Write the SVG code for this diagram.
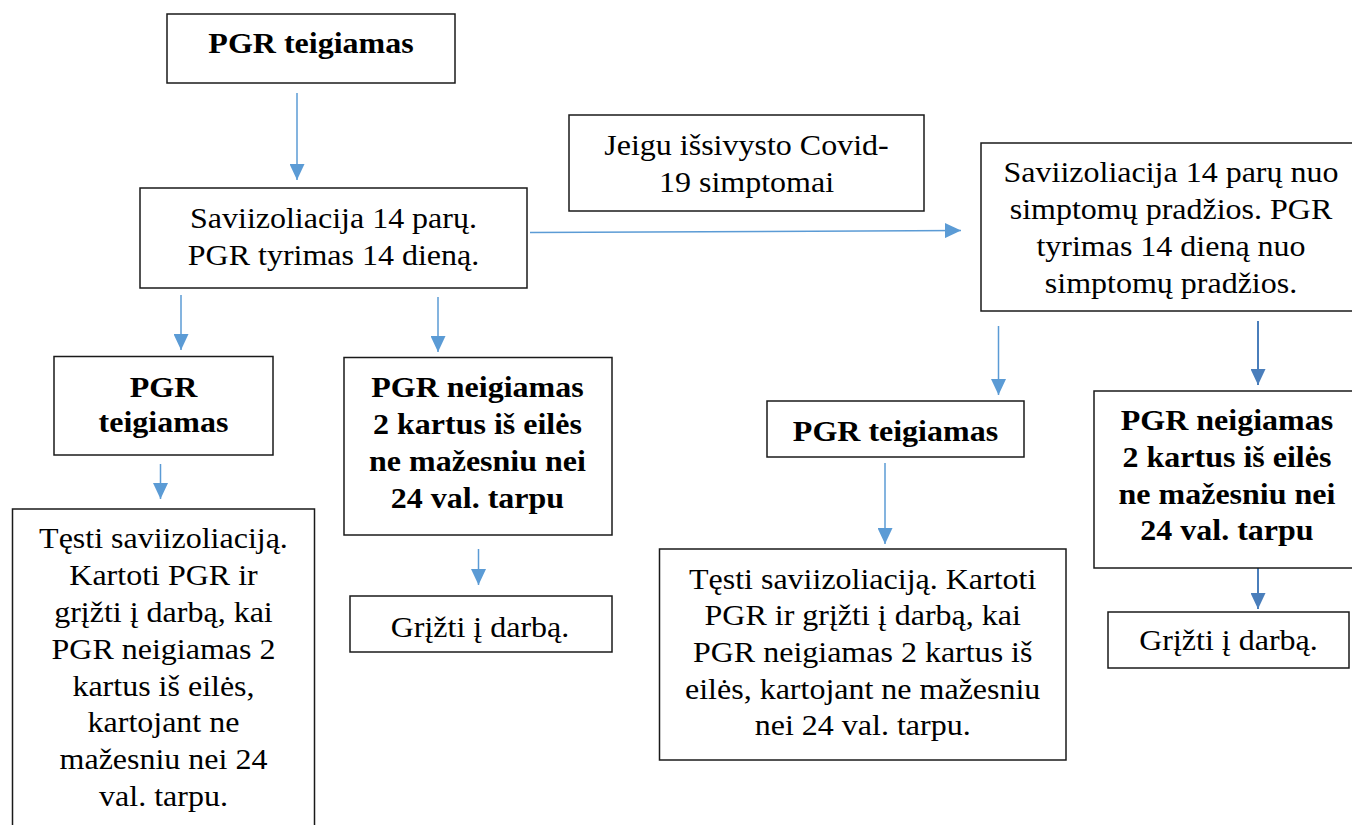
<svg xmlns="http://www.w3.org/2000/svg" width="1352" height="825" viewBox="0 0 1352 825">
<style>
.box{fill:#ffffff;stroke:#1a1a1a;stroke-width:1.5}
.t text{font-size:29.5px;fill:#000;text-anchor:middle}
.b{font-weight:bold}
.c1{stroke:#5B9BD5;stroke-width:1.5;fill:none}
.c2{stroke:#4A7EBB;stroke-width:2;fill:none}
</style>
<defs>
<marker id="h1" markerUnits="userSpaceOnUse" markerWidth="16" markerHeight="15" refX="16" refY="7.5" orient="auto"><path d="M0,0 L16,7.5 L0,15 z" fill="#5B9BD5"/></marker>
<marker id="h2" markerUnits="userSpaceOnUse" markerWidth="16" markerHeight="15" refX="16" refY="7.5" orient="auto"><path d="M0,0 L16,7.5 L0,15 z" fill="#4A7EBB"/></marker>
</defs>
<rect width="1352" height="825" fill="#ffffff"/>
<g id="connectors">
<line class="c1" x1="297" y1="93" x2="297" y2="180" marker-end="url(#h1)"/>
<line class="c1" x1="530" y1="232.5" x2="961" y2="230.5" marker-end="url(#h1)"/>
<line class="c1" x1="181" y1="295" x2="181" y2="350" marker-end="url(#h1)"/>
<line class="c1" x1="438" y1="297" x2="438" y2="352" marker-end="url(#h1)"/>
<line class="c1" x1="160.5" y1="464" x2="160.5" y2="499" marker-end="url(#h1)"/>
<line class="c1" x1="478.5" y1="549" x2="478.5" y2="585" marker-end="url(#h1)"/>
<line class="c1" x1="998.5" y1="326" x2="998.5" y2="395" marker-end="url(#h1)"/>
<line class="c2" x1="1258" y1="321" x2="1258" y2="385" marker-end="url(#h2)"/>
<line class="c1" x1="885" y1="463" x2="885" y2="544" marker-end="url(#h1)"/>
<line class="c2" x1="1258" y1="568" x2="1258" y2="609" marker-end="url(#h2)"/>
</g>
<g class="t" font-family="'Liberation Serif', 'Times New Roman', Tinos, 'DejaVu Serif', serif">
<g id="n1">
<rect class="box" x="167" y="14" width="288" height="69"/>
<g transform="matrix(1.085,0,0,1,-26.435,0)">
<text class="b" x="311" y="53.5">PGR teigiamas</text>
</g>
</g>
<g id="n2">
<rect class="box" x="140" y="188" width="387" height="100"/>
<g transform="matrix(1.085,0,0,1,-28.35,0)">
<text x="333.5" y="228.5">Saviizoliacija 14 parų.</text>
<text x="333.5" y="265">PGR tyrimas 14 dieną.</text>
</g>
</g>
<g id="n3">
<rect class="box" x="569" y="115" width="355" height="96"/>
<g transform="matrix(1.085,0,0,1,-63.45,0)">
<text x="746.5" y="155">Jeigu išsivysto Covid-</text>
<text x="746.5" y="192">19 simptomai</text>
</g>
</g>
<g id="n4">
<rect class="box" x="981" y="143" width="380" height="168"/>
<g transform="matrix(1.085,0,0,1,-99.535,0)">
<text x="1171" y="182.5">Saviizoliacija 14 parų nuo</text>
<text x="1171" y="219.5">simptomų pradžios. PGR</text>
<text x="1171" y="256">tyrimas 14 dieną nuo</text>
<text x="1171" y="293">simptomų pradžios.</text>
</g>
</g>
<g id="n5">
<rect class="box" x="54" y="356.5" width="219" height="98.5"/>
<g transform="matrix(1.085,0,0,1,-13.9,0)">
<text class="b" x="163.5" y="397">PGR</text>
<text class="b" x="163.5" y="432">teigiamas</text>
</g>
</g>
<g id="n6">
<rect class="box" x="344" y="357.5" width="268" height="177.5"/>
<g transform="matrix(1.085,0,0,1,-40.59,0)">
<text class="b" x="477.5" y="397.5">PGR neigiamas</text>
<text class="b" x="477.5" y="434.5">2 kartus iš eilės</text>
<text class="b" x="477.5" y="471">ne mažesniu nei</text>
<text class="b" x="477.5" y="508">24 val. tarpu</text>
</g>
</g>
<g id="n7">
<rect class="box" x="12.5" y="509" width="302" height="330"/>
<g transform="matrix(1.085,0,0,1,-13.9,0)">
<text x="163.5" y="548.5">Tęsti saviizoliaciją.</text>
<text x="163.5" y="585.3">Kartoti PGR ir</text>
<text x="163.5" y="622.1">grįžti į darbą, kai</text>
<text x="163.5" y="658.9">PGR neigiamas 2</text>
<text x="163.5" y="695.7">kartus iš eilės,</text>
<text x="163.5" y="732.5">kartojant ne</text>
<text x="163.5" y="769.3">mažesniu nei 24</text>
<text x="163.5" y="806.1">val. tarpu.</text>
</g>
</g>
<g id="n8">
<rect class="box" x="350" y="596" width="262" height="56"/>
<g transform="matrix(1.085,0,0,1,-40.8,0)">
<text x="480" y="637">Grįžti į darbą.</text>
</g>
</g>
<g id="n9">
<rect class="box" x="767" y="401" width="257" height="56"/>
<g transform="matrix(1.085,0,0,1,-76.12,0)">
<text class="b" x="895.5" y="441.5">PGR teigiamas</text>
</g>
</g>
<g id="n10">
<rect class="box" x="659.5" y="549" width="406.5" height="211"/>
<g transform="matrix(1.085,0,0,1,-73.33,0)">
<text x="862.7" y="588.8">Tęsti saviizoliaciją. Kartoti</text>
<text x="862.7" y="625.5">PGR ir grįžti į darbą, kai</text>
<text x="862.7" y="662.2">PGR neigiamas 2 kartus iš</text>
<text x="862.7" y="698.8">eilės, kartojant ne mažesniu</text>
<text x="862.7" y="735.5">nei 24 val. tarpu.</text>
</g>
</g>
<g id="n11">
<rect class="box" x="1094" y="391" width="266" height="177"/>
<g transform="matrix(1.085,0,0,1,-104.3,0)">
<text class="b" x="1227" y="430.5">PGR neigiamas</text>
<text class="b" x="1227" y="467.2">2 kartus iš eilės</text>
<text class="b" x="1227" y="503.8">ne mažesniu nei</text>
<text class="b" x="1227" y="540.5">24 val. tarpu</text>
</g>
</g>
<g id="n12">
<rect class="box" x="1108" y="612" width="241" height="56"/>
<g transform="matrix(1.085,0,0,1,-104.42,0)">
<text x="1228.5" y="650.5">Grįžti į darbą.</text>
</g>
</g>
</g>
</svg>
